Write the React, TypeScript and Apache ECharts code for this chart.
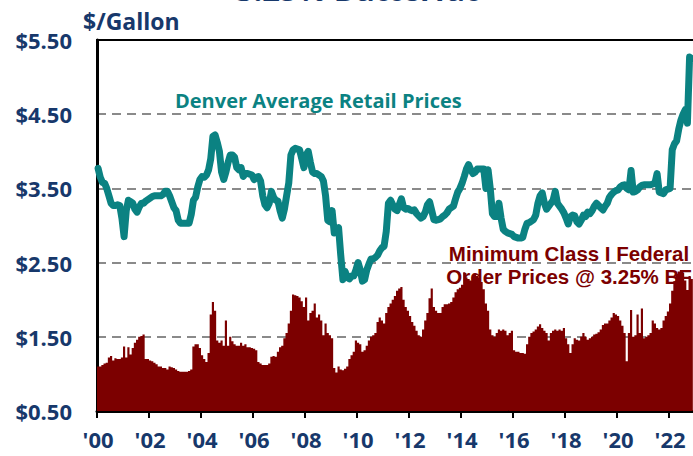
import React, { useEffect, useRef } from "react";
import * as echarts from "echarts";

// Monthly values starting January 2000 ($/gallon)
const startYear = 2000;
const axisMonths = 282; // axis runs past the visible edge (chart is cropped on the right)

const retailPrices: number[] = [
  // 2000-01 .. 2003-09
  3.77, 3.65, 3.58, 3.57, 3.5, 3.4, 3.3, 3.27, 3.27, 3.28, 3.27, 3.1, 2.85, 3.2, 3.34, 3.32, 3.3, 3.22, 3.18, 3.25,
  3.3, 3.3, 3.33, 3.35, 3.37, 3.39, 3.4, 3.4, 3.4, 3.4, 3.42, 3.46, 3.46, 3.4, 3.32, 3.24, 3.2, 3.07, 3.03, 3.03,
  3.03, 3.03, 3.03, 3.15, 3.34,
  // 2003-10 .. 2007-06
  3.38, 3.52, 3.62, 3.66, 3.65, 3.68, 3.75, 3.9, 4.2, 4.22, 4.12, 4.0, 3.72, 3.62, 3.72, 3.85, 3.95, 3.95, 3.92, 3.78,
  3.75, 3.78, 3.66, 3.7, 3.7, 3.69, 3.68, 3.62, 3.65, 3.66, 3.6, 3.4, 3.28, 3.24, 3.3, 3.46, 3.38, 3.34, 3.33, 3.2,
  3.1, 3.22, 3.4, 3.57, 3.95,
  // 2007-07 .. 2011-03
  4.02, 4.04, 4.03, 4.02, 3.9, 3.78, 3.95, 4.0, 3.85, 3.72, 3.7, 3.7, 3.68, 3.66, 3.6, 3.4, 3.07, 3.05, 3.2, 2.9,
  2.95, 2.97, 2.6, 2.27, 2.38, 2.3, 2.28, 2.32, 2.32, 2.4, 2.5, 2.4, 2.25, 2.27, 2.4, 2.48, 2.55, 2.55, 2.57, 2.6,
  2.66, 2.7, 2.72, 2.92, 3.3,
  // 2011-04 .. 2014-12
  3.34, 3.28, 3.22, 3.2, 3.28, 3.36, 3.24, 3.22, 3.23, 3.21, 3.2, 3.21, 3.16, 3.13, 3.1, 3.12, 3.18, 3.28, 3.32, 3.2,
  3.08, 3.07, 3.08, 3.09, 3.12, 3.14, 3.17, 3.22, 3.24, 3.26, 3.36, 3.45, 3.5, 3.57, 3.66, 3.76, 3.82, 3.75, 3.7, 3.72,
  3.76, 3.76, 3.76, 3.76, 3.5,
  // 2015-01 .. 2018-09
  3.75, 3.5, 3.16, 3.12, 3.12, 3.3, 3.1, 2.95, 2.92, 2.9, 2.89, 2.88, 2.85, 2.84, 2.83, 2.83, 2.84, 2.95, 3.03, 3.04,
  3.06, 3.08, 3.14, 3.3, 3.4, 3.44, 3.3, 3.22, 3.26, 3.3, 3.34, 3.46, 3.3, 3.26, 3.22, 3.17, 3.1, 3.02, 3.12, 3.14,
  3.13, 3.05, 3.02, 3.07, 3.14,
  // 2018-10 .. 2022-11
  3.12, 3.18, 3.16, 3.2, 3.26, 3.3, 3.27, 3.24, 3.21, 3.26, 3.3, 3.38, 3.42, 3.45, 3.47, 3.48, 3.52, 3.54, 3.55, 3.5,
  3.48, 3.74, 3.45, 3.46, 3.48, 3.52, 3.54, 3.55, 3.55, 3.55, 3.55, 3.56, 3.57, 3.7, 3.45, 3.44, 3.43, 3.48, 3.49, 3.5,
  4.02, 4.1, 4.14, 4.3, 4.42, 4.5, 4.56, 4.38, 5.27, 5.25,
];

const classIPrices: number[] = [
  // 2000-01 .. 2003-09
  1.1, 1.1, 1.12, 1.14, 1.15, 1.22, 1.24, 1.18, 1.21, 1.2, 1.2, 1.22, 1.37, 1.22, 1.36, 1.26, 1.35, 1.42, 1.46, 1.5,
  1.51, 1.53, 1.2, 1.2, 1.18, 1.17, 1.15, 1.13, 1.1, 1.1, 1.08, 1.08, 1.06, 1.1, 1.09, 1.08, 1.06, 1.04, 1.03, 1.03,
  1.03, 1.03, 1.04, 1.06, 1.37,
  // 2003-10 .. 2007-06
  1.4, 1.4, 1.35, 1.25, 1.2, 1.16, 1.28, 1.8, 1.97, 1.85, 1.45, 1.42, 1.45, 1.38, 1.72, 1.38, 1.5, 1.44, 1.4, 1.38,
  1.38, 1.42, 1.38, 1.4, 1.36, 1.36, 1.35, 1.34, 1.32, 1.16, 1.14, 1.12, 1.12, 1.12, 1.14, 1.23, 1.24, 1.23, 1.3, 1.36,
  1.38, 1.48, 1.55, 1.68, 1.85,
  // 2007-07 .. 2011-03
  2.07, 2.06, 2.05, 2.03, 1.98, 1.9, 2.03, 1.72, 1.82, 1.85, 1.95, 1.76, 1.8, 1.72, 1.52, 1.68, 1.55, 1.52, 1.48, 1.08,
  1.02, 1.1, 1.06, 1.05, 1.07, 1.1, 1.2, 1.25, 1.3, 1.45, 1.42, 1.4, 1.3, 1.32, 1.38, 1.45, 1.5, 1.52, 1.55, 1.7,
  1.76, 1.72, 1.68, 1.82, 1.9,
  // 2011-04 .. 2014-12
  1.95, 2.0, 2.05, 2.12, 2.15, 2.17, 2.0, 1.9, 1.85, 1.78, 1.7, 1.65, 1.58, 1.52, 1.5, 1.6, 1.72, 1.82, 2.02, 2.15,
  1.9, 1.85, 1.82, 1.82, 1.9, 1.94, 1.94, 1.95, 1.97, 2.03, 2.1, 2.14, 2.16, 2.2, 2.37, 2.3, 2.28, 2.26, 2.33, 2.34,
  2.32, 2.3, 2.24, 2.14, 1.95,
  // 2015-01 .. 2018-09
  1.85, 1.6, 1.52, 1.5, 1.55, 1.6, 1.58, 1.6, 1.58, 1.52, 1.55, 1.58, 1.32, 1.3, 1.3, 1.28, 1.28, 1.27, 1.4, 1.5,
  1.55, 1.57, 1.6, 1.64, 1.67, 1.62, 1.58, 1.55, 1.45, 1.55, 1.58, 1.6, 1.58, 1.6, 1.58, 1.62, 1.48, 1.4, 1.28, 1.4,
  1.48, 1.46, 1.45, 1.5, 1.55,
  // 2018-10 .. 2022-11
  1.5, 1.46, 1.48, 1.5, 1.53, 1.54, 1.56, 1.6, 1.66, 1.68, 1.68, 1.72, 1.76, 1.82, 1.8, 1.78, 1.72, 1.65, 1.55, 1.17,
  1.55, 1.86, 1.5, 1.52, 1.8, 1.55, 1.88, 1.48, 1.5, 1.52, 1.55, 1.72, 1.68, 1.62, 1.6, 1.62, 1.72, 1.78, 1.84, 1.95,
  2.12, 2.25, 2.35, 2.38, 2.4, 2.36, 2.26, 2.13, 2.32, 2.28,
];

const yTickLabels = ["$0.50", "$1.50", "$2.50", "$3.50", "$4.50", "$5.50"];
const axisBase = 0.5; // bottom of the value axis

const months: string[] = [];
for (let i = 0; i < axisMonths; i++) {
  const y = startYear + Math.floor(i / 12);
  const m = (i % 12) + 1;
  months.push(`${y}-${m < 10 ? "0" + m : m}`);
}

const NAVY = "#17386b";
const TEAL = "#0b8282";
const MAROON = "#7c0000";
const FONT = "'Open Sans', 'DejaVu Sans', sans-serif";
const NOTE_FONT = "'Liberation Sans', Arial, sans-serif";

export default function App() {
  const ref = useRef<HTMLDivElement>(null);

  useEffect(() => {
    document.body.style.margin = "0";
    if (!ref.current) return;
    const chart = echarts.init(ref.current, undefined, { renderer: "svg" });
    const gridLeft = 97;
    const gridTop = 40;
    const gridHeight = 371;
    const gridWidth = (axisMonths * 26) / 12;

    chart.setOption({
      animation: false,
      backgroundColor: "#ffffff",
      grid: {
        left: gridLeft,
        top: gridTop,
        width: gridWidth,
        height: gridHeight,
        outerBoundsMode: "none",
        containLabel: false,
        show: true,
        borderColor: "#000",
        borderWidth: 2,
        backgroundColor: "transparent",
      },
      xAxis: {
        type: "category",
        data: months,
        boundaryGap: true,
        axisLine: { show: true, lineStyle: { color: "#000", width: 3 } },
        axisTick: {
          show: true,
          interval: (i: number) => i % 24 === 0,
          length: 7,
          lineStyle: { color: "#000", width: 2 },
        },
        axisLabel: {
          interval: (i: number) => i % 24 === 0,
          formatter: (v: string) => "'" + v.slice(2, 4),
          color: NAVY,
          fontFamily: FONT,
          fontWeight: "bold",
          fontSize: 22,
          margin: 17,
        },
        splitLine: { show: false },
      },
      yAxis: {
        type: "value",
        min: 0,
        max: 5,
        interval: 1,
        axisLine: { show: true, lineStyle: { color: "#000", width: 3 } },
        axisTick: { show: false },
        axisLabel: {
          formatter: (v: number) => yTickLabels[Math.round(v)] ?? "",
          color: NAVY,
          fontFamily: FONT,
          fontWeight: "bold",
          fontSize: 22,
          margin: 25,
        },
        splitLine: {
          show: true,
          showMinLine: false,
          showMaxLine: false,
          lineStyle: { color: "#8a8a8a", width: 2, type: [9, 6] },
        },
      },
      series: [
        {
          type: "bar",
          name: "Minimum Class I Federal Order Prices @ 3.25% BF",
          data: classIPrices.map((v) => +(v - axisBase).toFixed(3)),
          barCategoryGap: "0%",
          large: true,
          largeThreshold: 50,
          itemStyle: { color: MAROON },
          z: 2,
        },
        {
          type: "line",
          name: "Denver Average Retail Prices",
          data: retailPrices.map((v) => +(v - axisBase).toFixed(3)),
          showSymbol: false,
          symbol: "none",
          lineStyle: { color: TEAL, width: 7, cap: "round", join: "round" },
          z: 3,
        },
      ],
      graphic: [
        {
          type: "text",
          x: 357,
          y: 4,
          style: {
            text: "3.25% Butterfat",
            fill: NAVY,
            font: `bold 31px ${FONT}`,
            textAlign: "center",
            textVerticalAlign: "bottom",
          },
        },
        {
          type: "text",
          x: 83,
          y: 21,
          style: {
            text: "$/Gallon",
            fill: NAVY,
            font: `bold 23px ${FONT}`,
            textAlign: "left",
            textVerticalAlign: "middle",
          },
        },
        {
          type: "text",
          x: 175,
          y: 100,
          style: {
            text: "Denver Average Retail Prices",
            fill: TEAL,
            font: `bold 20px ${FONT}`,
            textAlign: "left",
            textVerticalAlign: "middle",
          },
        },
        {
          type: "text",
          x: 569,
          y: 253,
          style: {
            text: "Minimum Class I Federal",
            fill: MAROON,
            font: `bold 20.5px ${NOTE_FONT}`,
            textAlign: "center",
            textVerticalAlign: "middle",
          },
        },
        {
          type: "text",
          x: 569,
          y: 276.5,
          style: {
            text: "Order Prices @ 3.25% BF",
            fill: MAROON,
            font: `bold 20.5px ${NOTE_FONT}`,
            textAlign: "center",
            textVerticalAlign: "middle",
          },
        },
      ],
    });

    return () => chart.dispose();
  }, []);

  return <div ref={ref} style={{ width: 693, height: 456 }} />;
}
